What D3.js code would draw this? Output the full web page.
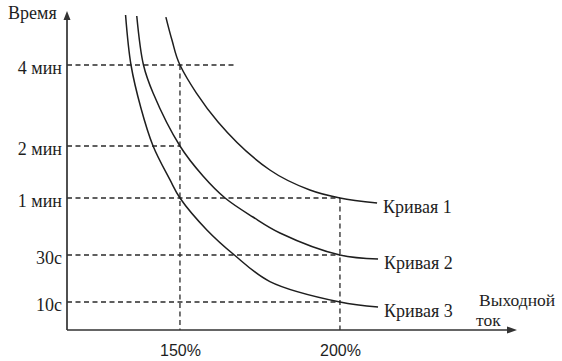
<!DOCTYPE html>
<html>
<head>
<meta charset="utf-8">
<script src="https://cdn.jsdelivr.net/npm/d3@7"></script>
<style>
  body { margin: 0; background: #fff; }
  svg { display: block; }
</style>
</head>
<body>
<svg id="chart" width="562" height="361"></svg>
<script>
// значения: x - выходной ток (%), y - время (с)
const tickSeconds = [240, 120, 60, 30, 10]
const tickLabels = ["4 мин", "2 мин", "1 мин", "30с", "10с"]
const guideEnds = [167.5, 150, 200, 200, 200]   // докуда идёт пунктир по каждому уровню
const xTicks = [150, 200]
const xGuideTops = [240, 60]                     // вертикальный пунктир от этого уровня вниз

const curveNames = ["Кривая 1", "Кривая 2", "Кривая 3"]
const curve1 = [[145.6, 311], [147.5, 277], [150, 240], [161.9, 155.6], [178.1, 92.3], [190.6, 69.2], [200, 60], [211.6, 57.4]]
const curve2 = [[136.5, 312.6], [138.6, 240], [141.6, 198.5], [150, 120], [157.2, 85.4], [164.1, 60], [172.8, 50], [181.25, 41.6], [200, 30], [211.9, 28.3]]
const curve3 = [[133.0, 314.1], [134.7, 240], [137.8, 176.3], [141.6, 120], [146.9, 80.8], [150, 60], [158.4, 43.2], [167.0, 30], [178.1, 18.7], [200, 10], [211.9, 7.9]]

const svg = d3.select("#chart")
const ink = "#1e1e1e"
const serif = "'Liberation Serif', 'Times New Roman', serif"

const x = d3.scaleLinear().domain([114.7, 254.7]).range([67, 515])
// шкала времени на рисунке условная - кусочно-линейная
const y = d3.scaleLinear().domain([10, 30, 60, 120, 240]).range([302, 255, 198, 146, 65])
const x0 = x.range()[0], y0 = 330

// пунктирные уровни
svg.append("g")
    .selectAll("line")
    .data(tickSeconds)
    .enter()
    .append("line")
    .attr("x1", x0)
    .attr("x2", (d, i) => x(guideEnds[i]))
    .attr("y1", d => y(d))
    .attr("y2", d => y(d))
    .style("stroke", "#2a2a2a")
    .style("stroke-width", 1.3)
    .style("stroke-dasharray", "5,3.5")

svg.append("g")
    .selectAll("line")
    .data(xTicks)
    .enter()
    .append("line")
    .attr("x1", d => x(d))
    .attr("x2", d => x(d))
    .attr("y1", (d, i) => y(xGuideTops[i]))
    .attr("y2", y0)
    .style("stroke", "#2a2a2a")
    .style("stroke-width", 1.3)
    .style("stroke-dasharray", "5,3.5")

// кривые
const line = d3.line()
    .x(d => x(d[0]))
    .y(d => y(d[1]))
    .curve(d3.curveCatmullRom.alpha(0.5))

const curves = [curve1, curve2, curve3]

svg.append("g")
    .selectAll("path")
    .data(curves)
    .enter()
    .append("path")
    .attr("d", line)
    .style("fill", "none")
    .style("stroke", ink)
    .style("stroke-width", 1.5)

svg.append("g")
    .selectAll("text")
    .data(curves)
    .enter()
    .append("text")
    .attr("x", d => x(d[d.length - 1][0]) + 6)
    .attr("y", d => y(d[d.length - 1][1]))
    .attr("dy", "0.55em")
    .style("font-family", serif)
    .style("font-size", "18px")
    .style("fill", ink)
    .text((d, i) => curveNames[i])

// оси
let yAxis = svg.append("g")
    .attr("transform", `translate(${x0},0)`)
    .call(d3.axisLeft(y).tickValues(tickSeconds).tickFormat((d, i) => tickLabels[i]).tickSize(0).tickPadding(5))
yAxis.select(".domain").remove()
yAxis.selectAll("text")
    .attr("dy", "0.45em")
    .style("font-family", serif)
    .style("font-size", "18px")
    .style("fill", ink)

let xAxis = svg.append("g")
    .attr("transform", `translate(0,${y0})`)
    .call(d3.axisBottom(x).tickValues(xTicks).tickFormat(d => d + "%").tickSize(0).tickPadding(15))
xAxis.select(".domain").remove()
xAxis.selectAll("text")
    .style("font-family", "'Liberation Sans', Arial, sans-serif")
    .style("font-size", "16px")
    .style("fill", ink)

const axisColor = "#333"

svg.append("path")
    .attr("d", `M${x0},${y0}V19M${x0},${y0}H508`)
    .style("fill", "none")
    .style("stroke", axisColor)
    .style("stroke-width", 1.7)

svg.append("path")
    .attr("d", `M${x0},11L${x0 - 3.5},20L${x0 + 3.5},20Z M517,${y0}L507,${y0 - 3.5}L507,${y0 + 3.5}Z`)
    .style("fill", axisColor)

// подписи осей
svg.append("text")
    .attr("x", 8).attr("y", 19)
    .style("font-family", serif).style("font-size", "18px").style("fill", ink)
    .text("Время")

svg.append("text")
    .attr("x", 479).attr("y", 306)
    .style("font-family", serif).style("font-size", "17.5px").style("fill", ink)
    .text("Выходной")

svg.append("text")
    .attr("x", 476).attr("y", 326)
    .style("font-family", serif).style("font-size", "17.5px").style("fill", ink)
    .text("ток")
</script>
</body>
</html>
